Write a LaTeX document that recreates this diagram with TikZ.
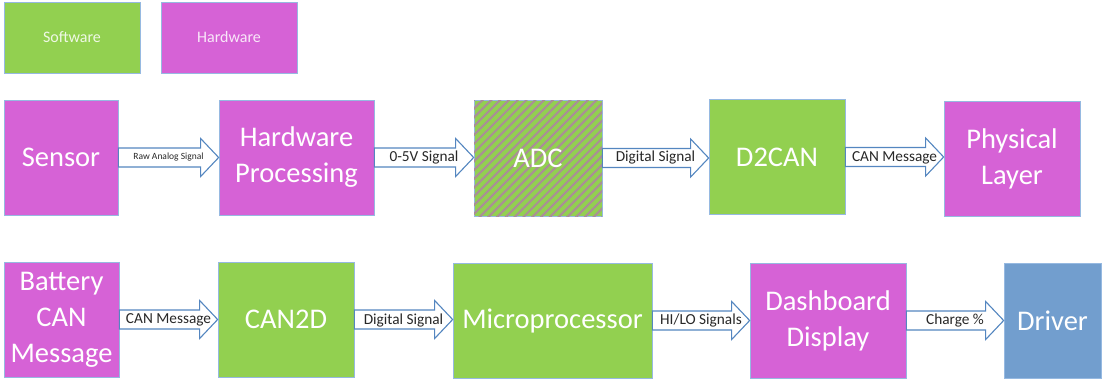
\documentclass[tikz,border=0pt]{standalone}
\usepackage{fontspec}
\setmainfont{Carlito}
\usetikzlibrary{calc,patterns.meta}

\definecolor{swgreen}{RGB}{146,208,80}
\definecolor{hwmag}{RGB}{214,98,214}
\definecolor{drvblue}{RGB}{114,158,206}
\definecolor{boxedge}{RGB}{150,185,225}
\definecolor{arrowline}{RGB}{84,134,192}
\definecolor{stripe}{RGB}{170,142,150}
\definecolor{lbltext}{RGB}{40,40,40}

\tikzset{
  box/.style={rectangle, draw=boxedge, line width=0.7pt, text=white, align=center,
    inner sep=0pt, font=\fontsize{28.5}{36}\selectfont},
  sw/.style={box, fill=swgreen},
  hw/.style={box, fill=hwmag},
  usr/.style={box, fill=drvblue},
  legendbox/.style={box, font=\fontsize{16}{18}\selectfont, text=white, text opacity=0.85},
  lbl/.style={text=lbltext, font=\fontsize{15.3}{17}\selectfont, inner sep=0pt},
  tinylbl/.style={lbl, font=\fontsize{9.5}{11}\selectfont},
  blockarrow/.style={draw=arrowline, fill=white, line width=1.1pt, line join=miter,
    to path={let \p1=(\tikztostart), \p2=(\tikztotarget) in
      (\x1,\y1+9.5pt) -- (\x2-18pt,\y1+9.5pt) -- (\x2-18pt,\y1+19pt) -- (\x2,\y1)
      -- (\x2-18pt,\y1-19pt) -- (\x2-18pt,\y1-9.5pt) -- (\x1,\y1-9.5pt) -- cycle}}
}

\begin{document}
\begin{tikzpicture}[x=1pt,y=-1pt]
\useasboundingbox (0,0) rectangle (1102,381);

% legend
\node[legendbox, fill=swgreen, minimum width=136pt, minimum height=71pt] (legsw) at (72,37.5) {Software};
\node[legendbox, fill=hwmag, minimum width=136pt, minimum height=71pt] (leghw) at (229,37.5) {Hardware};

% upper chain
\node[hw, minimum width=114pt, minimum height=115pt] (sensor) at (61,157.5) {Sensor};
\node[hw, minimum width=155pt, minimum height=115pt] (hwp) at (296.5,157.5) {Hardware\\Processing};
\node[sw, minimum width=128pt, minimum height=116pt,
  postaction={pattern={Lines[angle=45,distance=6.2pt,line width=2.1pt]}, pattern color=stripe}]
  (adc) at (538,158) {};
\node[text=white, font=\fontsize{28.5}{36}\selectfont] (adclbl) at (adc) {ADC};
\node[sw, minimum width=136pt, minimum height=115pt] (d2can) at (777,157) {D2CAN};
\node[hw, minimum width=136pt, minimum height=115pt] (phys) at (1012,158.5) {Physical\\Layer};

% lower chain
\node[hw, minimum width=115pt, minimum height=115pt] (batt) at (61.5,319.5) {Battery\\CAN\\Message};
\node[sw, minimum width=136pt, minimum height=115pt] (can2d) at (286,319.5) {CAN2D};
\node[sw, minimum width=199pt, minimum height=115pt] (micro) at (552.5,320.5) {Microprocessor};
\node[hw, minimum width=156pt, minimum height=115pt] (dash) at (828,320.5) {Dashboard\\Display};
\node[usr, minimum width=97pt, minimum height=115pt] (driver) at (1052.5,320.5) {Driver};

% block arrows
\draw[blockarrow] (sensor.east) to (hwp.west);
\draw[blockarrow] (hwp.east) to (adc.west);
\draw[blockarrow] (adc.east) to (d2can.west);
\draw[blockarrow] (d2can.east) to (phys.west);
\draw[blockarrow] (batt.east) to (can2d.west);
\draw[blockarrow] (can2d.east) to (micro.west);
\draw[blockarrow] (micro.east) to (dash.west);
\draw[blockarrow] (dash.east) to (driver.west);

% arrow labels
\path (sensor.east) -- node[tinylbl] {Raw Analog Signal} (hwp.west);
\path (hwp.east) -- node[lbl] {0-5V Signal} (adc.west);
\path (adc.east) -- node[lbl] {Digital Signal} (d2can.west);
\path (d2can.east) -- node[lbl] {CAN Message} (phys.west);
\path (batt.east) -- node[lbl] {CAN Message} (can2d.west);
\path (can2d.east) -- node[lbl] {Digital Signal} (micro.west);
\path (micro.east) -- node[lbl] {HI/LO Signals} (dash.west);
\path (dash.east) -- node[lbl] {Charge \%} (driver.west);
\end{tikzpicture}
\end{document}
